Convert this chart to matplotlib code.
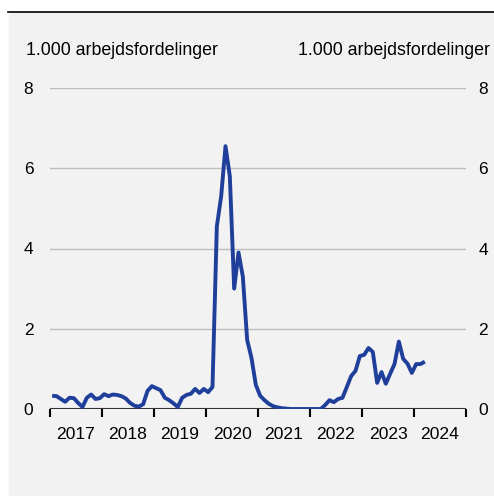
import numpy as np
import matplotlib.pyplot as plt
from matplotlib.lines import Line2D
from matplotlib.patches import Rectangle

plt.rcParams['font.family'] = ['Liberation Sans', 'DejaVu Sans']

# månedlige værdier, jan 2017 - mar 2024 (1.000 arbejdsfordelinger)
values = [
    0.33, 0.32, 0.25, 0.18, 0.28, 0.27, 0.15, 0.05, 0.28, 0.36, 0.25, 0.27,   # 2017
    0.37, 0.32, 0.36, 0.35, 0.32, 0.26, 0.15, 0.08, 0.06, 0.12, 0.45, 0.57,   # 2018
    0.52, 0.47, 0.28, 0.22, 0.14, 0.05, 0.28, 0.35, 0.38, 0.50, 0.40, 0.50,   # 2019
    0.42, 0.55, 4.55, 5.30, 6.55, 5.80, 3.00, 3.90, 3.30, 1.72, 1.27, 0.60,   # 2020
    0.33, 0.22, 0.13, 0.07, 0.04, 0.02, 0.01, 0.00, 0.00, 0.00, 0.00, 0.00,   # 2021
    0.00, 0.00, 0.00, 0.10, 0.22, 0.17, 0.25, 0.28, 0.55, 0.82, 0.95, 1.32,   # 2022
    1.35, 1.52, 1.42, 0.65, 0.92, 0.63, 0.88, 1.12, 1.68, 1.25, 1.13, 0.90,   # 2023
    1.12, 1.12, 1.18,                                                         # 2024
]
years = [2017, 2018, 2019, 2020, 2021, 2022, 2023, 2024]
yticks = [0, 2, 4, 6, 8]
unit = "1.000 arbejdsfordelinger"

x = 2017 + (np.arange(len(values)) + 0.5) / 12

fig = plt.figure(figsize=(4.94, 4.96), dpi=100)
fig.patches.append(Rectangle((9 / 494, 0), 1, 483 / 496, transform=fig.transFigure,
                             color='#f2f2f2', zorder=-10))
fig.lines.append(Line2D([8 / 494, 1], [484 / 496, 484 / 496], transform=fig.transFigure,
                        color='black', lw=1.2))

ax = fig.add_axes([50 / 494, 87 / 496, 416 / 494, 321 / 496])
ax.set_facecolor('none')
ax.plot(x, values, color='#1f3f9a', lw=2.8, solid_capstyle='butt', zorder=3)

ax.set_xlim(2017, 2025)
ax.set_ylim(0, 8)
for y in yticks[1:]:
    ax.axhline(y, color='#bdbdbd', lw=1, zorder=1)
ax.axhline(0, color='#333333', lw=1.5, zorder=2)

for s in ax.spines.values():
    s.set_visible(False)

ax.set_xticks(years + [2025])
ax.set_xticklabels([])
ax.set_xticks([yr + 0.5 for yr in years], minor=True)
ax.set_xticklabels([str(yr) for yr in years], minor=True, fontsize=12.6)
ax.tick_params(axis='x', which='major', length=6, width=1.5, color='black')
ax.tick_params(axis='x', which='minor', length=0, pad=13)

ax.set_yticks(yticks)
ax.set_yticklabels([str(v) for v in yticks], fontsize=12.5)
ax.tick_params(axis='y', length=0, pad=12)

# højre akse
ax2 = ax.twinx()
ax2.set_ylim(ax.get_ylim())
ax2.set_yticks(yticks)
ax2.set_yticklabels([str(v) for v in yticks], fontsize=12.5)
ax2.tick_params(axis='y', length=0, pad=9)
for s in ax2.spines.values():
    s.set_visible(False)

fig.text(26 / 494, 1 - 55 / 496, unit, fontsize=12.8, va='baseline', ha='left')
fig.text(490 / 494, 1 - 55 / 496, unit, fontsize=12.8, va='baseline', ha='right')

fig.savefig('out.png', dpi=100)
